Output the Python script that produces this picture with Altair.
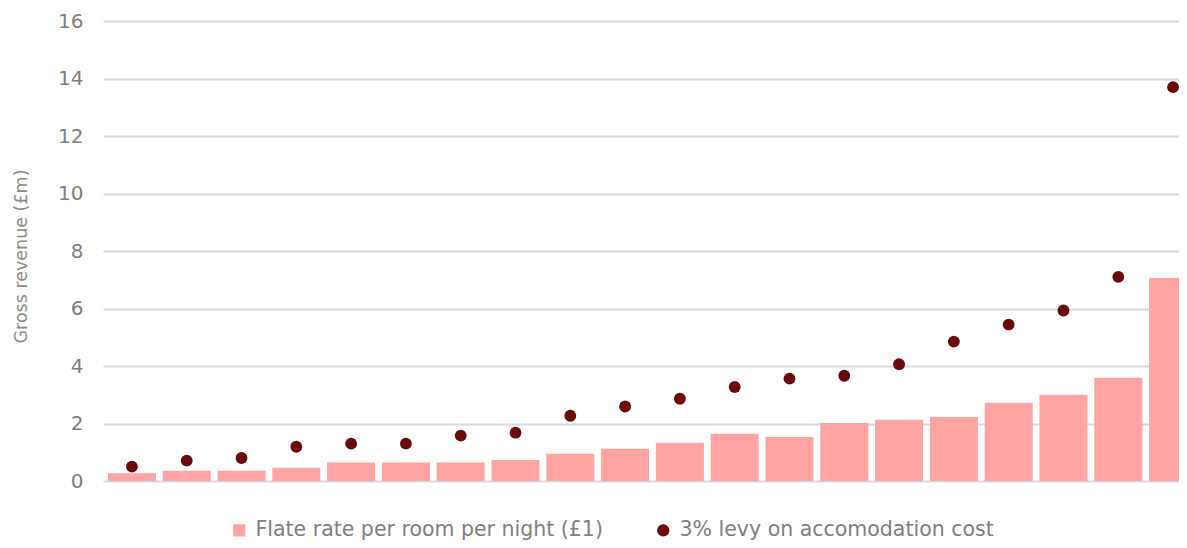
import altair as alt
import pandas as pd

categories = [str(i) for i in range(1, 21)]
flat_rate = [0.27, 0.36, 0.36, 0.46, 0.64, 0.64, 0.64, 0.73, 0.95, 1.12,
             1.33, 1.64, 1.53, 2.02, 2.13, 2.23, 2.72, 3.00, 3.59, 7.06]
levy = [0.50, 0.71, 0.80, 1.19, 1.30, 1.30, 1.58, 1.68, 2.27, 2.59,
        2.86, 3.27, 3.56, 3.66, 4.06, 4.85, 5.44, 5.93, 7.10, 13.70]
series_names = ["Flate rate per room per night (£1)", "3% levy on accomodation cost"]
y_ticks = [0, 2, 4, 6, 8, 10, 12, 14, 16]

rows = []
for c, v in zip(categories, flat_rate):
    rows.append({"cat": c, "value": v, "series": series_names[0]})
for c, v in zip(categories, levy):
    rows.append({"cat": c, "value": v, "series": series_names[1]})
df = pd.DataFrame(rows)

FONT = "DejaVu Sans"
color_scale = alt.Scale(domain=series_names, range=["#ffa3a3", "#6b0a0c"])
shape_scale = alt.Scale(domain=series_names, range=["square", "circle"])

legend = alt.Legend(
    title=None, orient="none", direction="horizontal",
    legendX=126, legendY=499, padding=0,
    labelFont=FONT, labelFontSize=20.5, labelColor="#808080",
    symbolSize=150, symbolStrokeWidth=0, symbolOpacity=1,
    columnPadding=50, labelOffset=6, labelLimit=600,
)

x_enc = alt.X("cat:N", sort=categories, axis=None,
              scale=alt.Scale(paddingInner=0.124, paddingOuter=0.09, range=[0, 1099]))
y_enc = alt.Y("value:Q",
              scale=alt.Scale(domain=[0, 16], nice=False),
              axis=alt.Axis(values=y_ticks, title="Gross revenue (£m)",
                            domain=False, ticks=False, labelPadding=20,
                            labelFont=FONT, labelFontSize=20, labelColor="#808080",
                            gridColor="#d9d9d9", gridWidth=2,
                            titleFont=FONT, titleFontSize=17.5, titleFontWeight="normal",
                            titleColor="#8c8c8c", titleAngle=-90,
                            titleX=-82, titleY=235, titleAlign="center",
                            titleBaseline="middle"))

bars = alt.Chart(df).transform_filter(
    alt.datum.series == series_names[0]
).mark_bar(clip=True).encode(
    x=x_enc, y=y_enc,
    color=alt.Color("series:N", scale=color_scale, legend=legend),
)

points = alt.Chart(df).transform_filter(
    alt.datum.series == series_names[1]
).mark_point(filled=True, opacity=1, size=140).encode(
    x=x_enc, y=y_enc,
    color=alt.Color("series:N", scale=color_scale, legend=legend),
    shape=alt.Shape("series:N", scale=shape_scale, legend=legend),
)

chart = alt.layer(bars, points).properties(
    width=1076, height=460,
    autosize=alt.AutoSizeParams(type="none"),
    padding={"left": 95, "top": 13, "right": 0, "bottom": 59},
).configure(background="white").configure_view(stroke=None)

chart.save("out.html", embed_options={"renderer": "svg", "actions": False})
